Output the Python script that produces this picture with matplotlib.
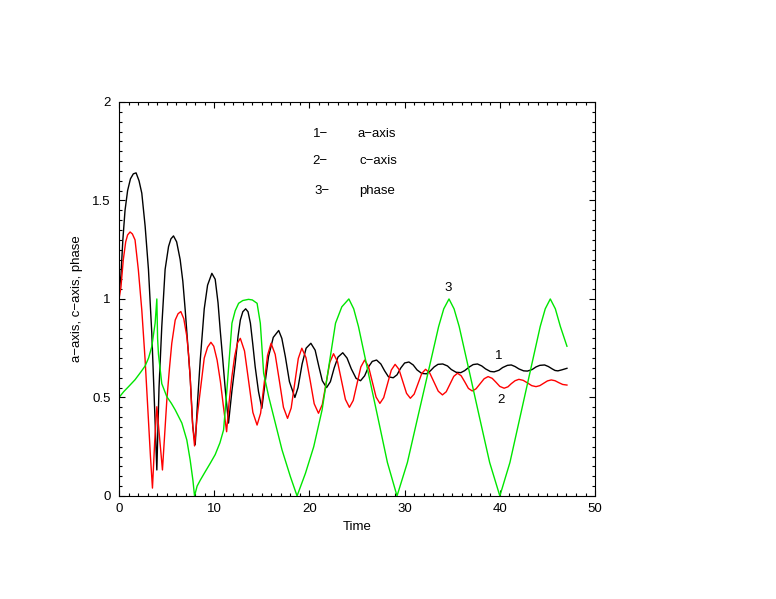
import matplotlib.pyplot as plt
from matplotlib.ticker import MultipleLocator

plt.rcParams['font.family'] = ['Liberation Sans', 'DejaVu Sans']

#a-axis (curve 1)---------------------------------------------
t_a = [0.0, 0.2, 0.4, 0.63, 0.9, 1.2, 1.5, 1.79, 2.1, 2.39, 2.74, 3.09, 3.44, 3.68, 3.97,
       4.2, 4.49, 4.84, 5.2, 5.45, 5.72, 6.05, 6.42, 6.7, 6.95, 7.2, 7.47, 7.75, 8.0,
       8.25, 8.53, 8.95, 9.3, 9.75, 10.1, 10.4, 10.63, 10.9, 11.16, 11.5,
       11.85, 12.2, 12.5, 12.74, 13.0, 13.3, 13.55, 13.8, 14.05, 14.3, 14.65, 15.0,
       15.3, 15.7, 16.2, 16.77, 17.1, 17.47, 17.9, 18.47, 18.8, 19.23, 19.65, 20.15,
       20.6, 21.0, 21.35, 21.8, 22.2, 22.6, 23.0, 23.5, 23.95, 24.4, 24.9, 25.37,
       25.8, 26.2, 26.6, 27.05, 27.5, 27.9, 28.3, 28.8, 29.2, 29.6, 30.0, 30.45,
       30.9, 31.3, 31.8, 32.3, 32.7, 33.1, 33.5, 34.0, 34.5, 34.9, 35.4, 35.9,
       36.3, 36.8, 37.2, 37.65, 38.1, 38.5, 39.0, 39.4, 39.9, 40.3, 40.8, 41.2,
       41.6, 42.0, 42.5, 42.9, 43.4, 43.8, 44.2, 44.7, 45.1, 45.5, 45.8, 46.1, 46.5, 47.05]
v_a = [1.03, 1.12, 1.30, 1.45, 1.55, 1.61, 1.635, 1.64, 1.60, 1.537, 1.37, 1.15, 0.826, 0.52, 0.132,
       0.55, 0.86, 1.15, 1.266, 1.305, 1.32, 1.29, 1.20, 1.09, 0.944, 0.78, 0.605, 0.35, 0.26,
       0.48, 0.69, 0.95, 1.07, 1.13, 1.10, 0.98, 0.84, 0.69, 0.54, 0.37,
       0.53, 0.67, 0.81, 0.893, 0.935, 0.95, 0.935, 0.877, 0.77, 0.656, 0.53, 0.445,
       0.56, 0.707, 0.805, 0.84, 0.80, 0.707, 0.58, 0.50, 0.55, 0.67, 0.75, 0.775,
       0.74, 0.655, 0.585, 0.55, 0.58, 0.65, 0.705, 0.727, 0.70, 0.645, 0.597, 0.585,
       0.61, 0.655, 0.683, 0.69, 0.67, 0.635, 0.605, 0.60, 0.615, 0.65, 0.675, 0.68,
       0.665, 0.64, 0.622, 0.62, 0.635, 0.655, 0.668, 0.67, 0.66, 0.642, 0.628, 0.626,
       0.636, 0.655, 0.667, 0.67, 0.66, 0.645, 0.632, 0.63, 0.638, 0.652, 0.663, 0.665,
       0.657, 0.645, 0.635, 0.634, 0.642, 0.655, 0.663, 0.665, 0.657, 0.645, 0.637, 0.635, 0.64, 0.648]

#c-axis (curve 2)---------------------------------------------
t_c = [0.0, 0.2, 0.45, 0.7, 0.9, 1.16, 1.4, 1.68, 2.03, 2.39, 2.74, 3.09, 3.3, 3.51,
       3.75, 3.97, 4.25, 4.56, 4.8, 5.02, 5.3, 5.54, 5.9, 6.2, 6.49, 6.8, 7.12, 7.3,
       7.47, 7.7, 7.93, 8.2, 8.53, 8.95, 9.3, 9.65, 9.95, 10.3, 10.65, 10.95, 11.3,
       11.55, 11.85, 12.15, 12.45, 12.74, 13.18, 13.62, 14.06, 14.5, 14.87, 15.24, 15.6,
       15.97, 16.4, 16.84, 17.27, 17.7, 18.08, 18.45, 18.83, 19.2, 19.64, 20.08, 20.5,
       20.95, 21.35, 21.74, 22.14, 22.53, 22.95, 23.37, 23.78, 24.2, 24.6, 25.0, 25.4,
       25.8, 26.2, 26.6, 27.0, 27.4, 27.8, 28.2, 28.6, 29.0, 29.4, 29.8, 30.2, 30.6,
       31.0, 31.4, 31.8, 32.2, 32.64, 33.08, 33.53, 33.97, 34.37, 34.76, 35.16, 35.55,
       35.94, 36.33, 36.7, 37.1, 37.5, 37.93, 38.35, 38.77, 39.2, 39.6, 40.0, 40.45,
       40.85, 41.2, 41.6, 42.0, 42.45, 42.9, 43.35, 43.8, 44.2, 44.6, 45.0, 45.4,
       45.8, 46.2, 46.6, 47.05]
v_c = [1.00, 1.06, 1.20, 1.29, 1.325, 1.34, 1.33, 1.30, 1.147, 0.944, 0.69, 0.386, 0.2, 0.04,
       0.28, 0.453, 0.3, 0.132, 0.32, 0.487, 0.65, 0.775, 0.893, 0.925, 0.936, 0.9, 0.81, 0.72,
       0.605, 0.38, 0.254, 0.40, 0.53, 0.70, 0.755, 0.78, 0.76, 0.69, 0.58, 0.46, 0.326,
       0.47, 0.604, 0.71, 0.778, 0.80, 0.736, 0.58, 0.424, 0.36, 0.42, 0.568, 0.714,
       0.775, 0.719, 0.585, 0.45, 0.394, 0.446, 0.572, 0.698, 0.75, 0.702, 0.585, 0.468,
       0.42, 0.464, 0.571, 0.678, 0.722, 0.682, 0.586, 0.49, 0.45, 0.485, 0.57, 0.655,
       0.69, 0.658, 0.58, 0.502, 0.47, 0.499, 0.569, 0.639, 0.668, 0.643, 0.582, 0.521, 0.496,
       0.517, 0.57, 0.622, 0.643, 0.624, 0.578, 0.532, 0.513, 0.529, 0.568, 0.607, 0.623,
       0.61, 0.578, 0.546, 0.533, 0.544, 0.57, 0.595, 0.606, 0.597, 0.577, 0.556, 0.547,
       0.554, 0.57, 0.585, 0.592, 0.587, 0.574, 0.56, 0.555, 0.56, 0.572, 0.584, 0.589,
       0.585, 0.575, 0.566, 0.563]

#phase (curve 3)----------------------------------------------
t_p = [0.0, 0.5, 1.0, 1.68, 2.3, 2.74, 3.1, 3.44, 3.79, 3.97, 4.05, 4.14, 4.49, 5.02,
       5.5, 5.9, 6.6, 7.12, 7.47, 7.76, 7.93, 8.2, 8.53, 9.05, 9.58, 10.1, 10.6, 10.98,
       11.33, 11.86, 12.2, 12.56, 13.0, 13.6, 14.0, 14.5, 14.84, 15.19, 15.72, 16.42,
       17.12, 18.0, 18.7, 19.58, 20.45, 21.33, 22.03, 22.74, 23.4, 24.14,
       24.65, 25.15, 26.16, 27.18, 28.19, 29.2, 30.29, 31.38, 32.48, 33.57, 34.11, 34.66,
       35.19, 35.73, 36.8, 37.86, 38.93, 40.0, 41.06, 42.12, 43.18, 44.24, 44.77, 45.3,
       45.83, 46.36, 47.05]
v_p = [0.50, 0.53, 0.555, 0.59, 0.63, 0.66, 0.70, 0.758, 0.877, 1.0, 0.80, 0.72, 0.57, 0.504,
       0.47, 0.437, 0.37, 0.284, 0.183, 0.08, 0.0, 0.05, 0.08, 0.123, 0.166, 0.21, 0.27, 0.335,
       0.538, 0.877, 0.94, 0.978, 0.992, 0.998, 0.995, 0.978, 0.877, 0.623, 0.504, 0.369,
       0.234, 0.098, 0.0, 0.115, 0.25, 0.437, 0.656, 0.877, 0.96, 1.0,
       0.95, 0.86, 0.63, 0.40, 0.17, 0.0, 0.17, 0.40, 0.63, 0.86, 0.95, 1.0,
       0.95, 0.86, 0.63, 0.40, 0.17, 0.0, 0.17, 0.40, 0.63, 0.86, 0.95, 1.0,
       0.95, 0.86, 0.76]

fig = plt.figure(figsize=(7.76, 5.99), dpi=100)
ax = fig.add_axes([0.1534, 0.172, 0.6134, 0.6578])

ax.plot(t_a, v_a, color="black", lw=1.0)
ax.plot(t_c, v_c, color="#ff0000", lw=1.0)
ax.plot(t_p, v_p, color="#00e600", lw=1.0)

ax.set_xlim(0, 50)
ax.set_ylim(0, 2)
ax.xaxis.set_major_locator(MultipleLocator(10))
ax.xaxis.set_minor_locator(MultipleLocator(1))
ax.yaxis.set_major_locator(MultipleLocator(0.5))
ax.yaxis.set_minor_locator(MultipleLocator(0.05))
ax.set_yticks([0, 0.5, 1, 1.5, 2])
ax.set_yticklabels(["0", "0.5", "1", "1.5", "2"])
ax.tick_params(which='both', direction='in', top=True, right=True, labelsize=9.5)
ax.tick_params(which='major', length=4, width=0.8)
ax.tick_params(which='minor', length=2.2, width=0.8)
ax.tick_params(axis='x', pad=5)
ax.tick_params(axis='y', pad=6)
for s in ax.spines.values():
    s.set_linewidth(0.8)

ax.set_xlabel("Time", fontsize=9.5, va='center')
ax.xaxis.set_label_coords(0.5, -0.079)
ax.set_ylabel("a\u2212axis, c\u2212axis, phase", fontsize=9.5, va='center')
ax.yaxis.set_label_coords(-0.088, 0.5)

# legend text
ax.text(20.4, 1.838, "1\u2212", fontsize=9.5, ha='left', va='center')
ax.text(25.05, 1.838, "a\u2212axis", fontsize=9.5, ha='left', va='center')
ax.text(20.3, 1.702, "2\u2212", fontsize=9.5, ha='left', va='center')
ax.text(25.26, 1.702, "c\u2212axis", fontsize=9.5, ha='left', va='center')
ax.text(20.5, 1.548, "3\u2212", fontsize=9.5, ha='left', va='center')
ax.text(25.26, 1.548, "phase", fontsize=9.5, ha='left', va='center')

# curve numbers
ax.text(39.84, 0.713, "1", fontsize=9.5, ha='center', va='center')
ax.text(40.14, 0.487, "2", fontsize=9.5, ha='center', va='center')
ax.text(34.6, 1.056, "3", fontsize=9.5, ha='center', va='center')

plt.savefig("out.png", dpi=100)
